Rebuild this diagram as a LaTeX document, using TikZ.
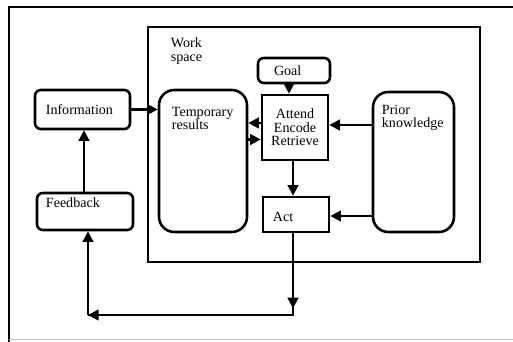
\documentclass[tikz,border=0pt]{standalone}
\usepackage{fontspec}
\setmainfont{Liberation Serif}
\usepackage{tikz}
\usetikzlibrary{arrows.meta}

\tikzset{
  box/.style={draw, line width=2.2pt, rounded corners=5pt, inner sep=0pt},
  sqbox/.style={draw, line width=2.2pt, inner sep=0pt},
  tallbox/.style={draw, line width=2.2pt, rounded corners=13pt, inner sep=0pt},
  txt/.style={anchor=north west, inner sep=0pt, align=left},
  wire/.style={line width=2pt},
  arr/.style={line width=2pt, -{Triangle[length=3.2mm, width=3.2mm]}},
}

\begin{document}
\begin{tikzpicture}[x=0.3mm, y=-0.3mm, font=\fontsize{12}{11.5}\selectfont]
    \useasboundingbox (0,0) rectangle (513,342);
    \clip (0,0) rectangle (513,342);
    % === Outer frame ===
    \draw[line width=1.8pt] (9,360) -- (9,7) -- (520,7);
    \draw[black!25, line width=0.8pt] (9,339) -- (520,339);

    % === Work space ===
    \node[sqbox, minimum width=99.6mm, minimum height=70.5mm,
      label={[txt, xshift=7.2mm, yshift=-3.6mm]north west:Work\\space}] (work) at (314,144.5) {};

    % Boxes
    \node[box, minimum width=28.5mm, minimum height=11.7mm, text width=22mm, align=left] (info) at (82.5,109.5) {Information};
    \node[box, minimum width=28.8mm, minimum height=11.1mm,
      label={[txt, xshift=3mm, yshift=-1.8mm]north west:Feedback}] (feedback) at (85,211.5) {};
    \node[tallbox, minimum width=26.4mm, minimum height=42.6mm,
      label={[txt, xshift=4.2mm, yshift=-5.4mm]north west:Temporary\\results}] (temp) at (203,161) {};
    \node[box, minimum width=21.6mm, minimum height=7.5mm, text width=12mm, align=left] (goal) at (294,70.5) {Goal};
    \node[sqbox, minimum width=19.8mm, minimum height=19.5mm, align=center] (attend) at (295,127.5) {Attend\\Encode\\Retrieve};
    \node[sqbox, minimum width=19.8mm, minimum height=10.5mm,
      label={[txt, xshift=3.3mm, yshift=-4.8mm]north west:Act}] (act) at (296,214.5) {};
    \node[tallbox, minimum width=24.3mm, minimum height=42mm,
      label={[txt, xshift=3mm, yshift=-4.2mm]north west:Prior\\knowledge}] (prior) at (413.5,162) {};

    % Corners of the feedback loop
    \coordinate (bendr) at (293,315);
    \coordinate (bendl) at (88,315);

    % === Arrows ===
    \draw[arr] (info.east) -- (temp.west |- info.east);
    \draw[arr] ([yshift=1.35mm]attend.west) -- ([yshift=1.35mm]attend.west -| temp.east);
    \draw[arr] ([yshift=-3.6mm]attend.west -| temp.east) -- ([yshift=-3.6mm]attend.west);
    \draw[arr] ([xshift=-1.5mm]goal.south) -- ([xshift=-1.5mm]goal.south |- attend.north);
    \draw[arr] ([yshift=0.75mm]attend.east -| prior.west) -- ([yshift=0.75mm]attend.east);
    \draw[arr] (attend.south -| bendr) -- (bendr |- act.north);
    \draw[arr] ([yshift=-0.45mm]act.east -| prior.west) -- ([yshift=-0.45mm]act.east);
    % loop back to feedback
    \draw[wire] (bendr |- act.south) -- (bendr) -- (bendl);
    \draw[arr, shorten >=2mm] (bendr |- act.south) -- (bendr);
    \draw[arr] (bendr) -- (bendl);
    \draw[arr] (bendl) -- (bendl |- feedback.south);
    \draw[arr] ([xshift=-0.3mm]feedback.north) -- ([xshift=-0.3mm]feedback.north |- info.south);
\end{tikzpicture}
\end{document}
